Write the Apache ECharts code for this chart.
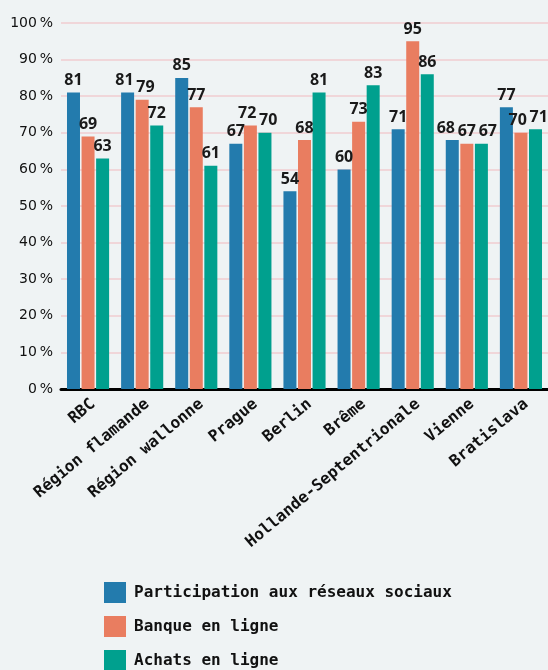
<!DOCTYPE html>
<html><head><meta charset="utf-8">
<script src="https://cdn.jsdelivr.net/npm/echarts@6/dist/echarts.min.js"></script>
<style>html,body{margin:0;padding:0;background:#eff3f4;}#c{width:548px;height:670px;}</style>
</head><body><div id="c"></div>
<script>
const categories = ['RBC','Région flamande','Région wallonne','Prague','Berlin','Brême','Hollande-Septentrionale','Vienne','Bratislava'];
const seriesNames = ['Participation aux réseaux sociaux','Banque en ligne','Achats en ligne'];
const social = [81,81,85,67,54,60,71,68,77];
const banking = [69,79,77,72,68,73,95,67,70];
const shopping = [63,72,61,70,81,83,86,67,71];
const colors = ['#237bad','#e97d60','#00a08e'];
const yTicks = [0,10,20,30,40,50,60,70,80,90,100];

const chart = echarts.init(document.getElementById('c'), null, {renderer:'canvas'});
const mono = 'DejaVu Sans Mono';

// simple label repel (horizontal) computed from values
const allVals = [social, banking, shopping];
const plotH = 670 - 23 - 281;
const pxPerUnit = plotH / 100;
const barW = 13, barStep = 13 * 1.12;
const labW = 21, labH = 14;
const offsets = allVals.map(() => categories.map(() => 0));
categories.forEach((c, ci) => {
  const xs = [-barStep, 0, barStep];
  const ys = allVals.map(a => -a[ci] * pxPerUnit);
  for (let it = 0; it < 60; it++) {
    for (let i = 0; i < 3; i++) for (let j = i + 1; j < 3; j++) {
      const ox = labW - Math.abs(xs[j] - xs[i]);
      const oy = labH - Math.abs(ys[j] - ys[i]);
      if (ox > 0.01 && oy > 0) { xs[i] -= ox / 2; xs[j] += ox / 2; }
    }
  }
  [-barStep, 0, barStep].forEach((b, k) => { offsets[k][ci] = xs[k] - b; });
});

function mk(k){
  return {name: seriesNames[k], type:'bar', barWidth:barW, barGap:'12%',
    data: allVals[k].map((v, ci) => ({value: v, label: {offset: [offsets[k][ci], 0]}})),
    itemStyle:{color: colors[k]},
    label:{show:true, position:'top', distance:4, fontFamily:'Noto Sans', fontWeight:'bold', fontSize:16, color:'#1a1a1a'}};
}
chart.setOption({
  backgroundColor:'#eff3f4',
  animation:false,
  grid:{left:61, right:0, top:23, bottom:281, containLabel:false},
  legend:{orient:'vertical', left:104, top:582, height:120, padding:0, itemWidth:22, itemHeight:21, itemGap:13,
    icon:'rect', textStyle:{fontFamily:mono, fontWeight:'bold', fontSize:16, color:'#111', padding:[0,0,0,3]},
    data:seriesNames},
  xAxis:{type:'category', data:categories,
    axisLine:{lineStyle:{color:'#000', width:3}}, axisTick:{show:false},
    axisLabel:{rotate:40, interval:0, fontFamily:mono, fontWeight:'bold', fontSize:16, color:'#111', margin:7, verticalAlign:'top'}},
  yAxis:{type:'value', min:0, max:100, interval:10,
    axisLine:{show:false}, axisTick:{show:false},
    splitLine:{lineStyle:{color:'#f0cdd0', width:1.5}},
    axisLabel:{formatter: v => yTicks.includes(v) ? v + '\u202f%' : '', fontFamily:'DejaVu Sans', fontSize:14, color:'#111', margin:8}},
  series:[mk(0), mk(1), mk(2)]
});
</script></body></html>
